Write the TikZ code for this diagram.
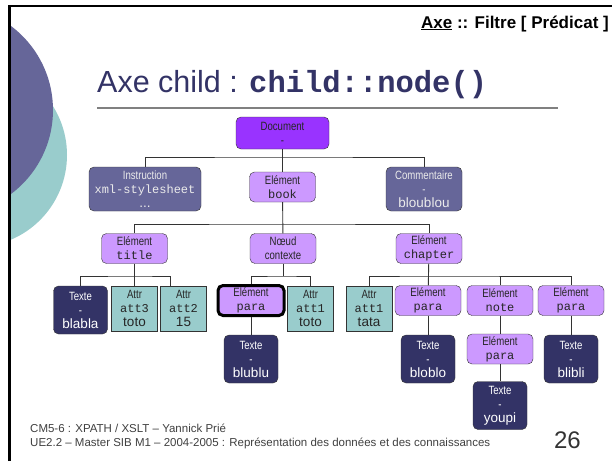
\documentclass[tikz,border=0pt]{standalone}
\usepackage{fontspec}
\setmainfont{Liberation Sans}
\setmonofont{Liberation Mono}
\newfontfamily\narrowfont[FakeStretch=0.8]{Liberation Sans}
\usetikzlibrary{positioning, calc}
\definecolor{slidenavy}{RGB}{51,51,102}
\definecolor{slideblue}{RGB}{102,102,153}
\definecolor{slideteal}{RGB}{153,204,204}
\definecolor{docviolet}{RGB}{153,51,255}
\definecolor{elemlilac}{RGB}{204,153,255}
\newcommand{\xname}[1]{{\ttfamily\fontsize{12}{14}\selectfont #1}}
\newcommand{\xval}[1]{{\normalfont\fontsize{13.5}{14}\selectfont #1}}

\begin{document}
\begin{tikzpicture}[x=1pt, y=-1pt]
    \tikzstyle{box} = [draw=black!80, rounded corners=5pt, align=center, inner sep=1pt, font=\narrowfont\fontsize{12}{14}\selectfont]
    \tikzstyle{element} = [box, fill=elemlilac, text=black!85, minimum width=66pt, minimum height=30pt]
    \tikzstyle{texte} = [box, fill=slidenavy, text=white, minimum width=54pt, minimum height=48pt]
    \tikzstyle{attr} = [box, rounded corners=0pt, fill=slideteal, text=black!85, minimum width=46pt, minimum height=45pt]
    \tikzstyle{misc} = [box, fill=slideblue, text=white!92!black, minimum height=44pt]
    \tikzstyle{edge} = [draw, black!80, line width=0.9pt]

    % slide background
    \fill[white] (0,0) rectangle (612,461);
    \useasboundingbox (0,0) rectangle (612,461);
    \begin{scope}
        \clip (10,6) rectangle (612,461);
        \fill[slideteal] (-25,155) circle (92);
        \fill[slideblue] (-52,110) circle (105);
    \end{scope}
    \draw[black, line width=3pt] (9.5,461) -- (9.5,6);
    \draw[black, line width=2pt] (8,6) -- (612,6);

    % headers and footers
    \node[anchor=base east, inner sep=0pt, font=\bfseries\fontsize{17}{19}\selectfont] (axis) at (609,28) {\underline{Axe} :: Filtre [ Prédicat ]};
    \node[anchor=base west, inner sep=0pt, text=slidenavy, font=\fontsize{30.5}{34}\selectfont] (heading) at (97,92) {Axe child : {\ttfamily\bfseries child::node()}};
    \draw[black!50, line width=1.5pt] (97,108) -- (558,108);
    \node[anchor=base west, inner sep=0pt, text=black!75, font=\fontsize{11.5}{13}\selectfont] (foot1) at (30,432) {CM5-6 : XPATH / XSLT – Yannick Prié};
    \node[anchor=base west, inner sep=0pt, text=black!75, font=\fontsize{11.5}{13}\selectfont] (foot2) at (30,446) {UE2.2 – Master SIB M1 – 2004-2005 : Représentation des données et des connaissances};
    \node[anchor=base east, inner sep=0pt, text=black!80, font=\fontsize{24}{26}\selectfont] (page) at (581,448) {26};

    % tree
    \node[box, fill=docviolet, text=black!85, minimum width=93pt, minimum height=32pt] (doc) at (282.5,133) {Document\\-};
    \node[misc, minimum width=112pt] (instr) at (145,189) {Instruction\\\xname{xml-stylesheet}\\\xval{...}};
    \node[element] (book) at (282.5,187) {Elément\\\xname{book}};
    \node[misc, minimum width=76pt] (comment) at (424,189) {Commentaire\\-\\\xval{bloublou}};

    \node[element] (title) at (134.5,248.5) {Elément\\\xname{title}};
    \node[element] (ctx) at (283,248.5) {Nœud\\contexte};
    \node[element] (chapter) at (429,248.5) {Elément\\\xname{chapter}};

    \node[texte] (blabla) at (80.5,310) {Texte\\-\\\xval{blabla}};
    \node[attr] (att3) at (134.5,308.5) {Attr\\\xname{att3}\\\xval{toto}};
    \node[attr] (att2) at (183.5,308.5) {Attr\\\xname{att2}\\\xval{15}};
    \node[element, draw=black, line width=3pt, minimum width=66pt, minimum height=30pt] (para1) at (251,300.5) {Elément\\\xname{para}};
    \node[attr] (att1a) at (310.5,308.5) {Attr\\\xname{att1}\\\xval{toto}};
    \node[attr] (att1b) at (369,308.5) {Attr\\\xname{att1}\\\xval{tata}};
    \node[element] (para2) at (428,300.5) {Elément\\\xname{para}};
    \node[element] (note) at (500,300.5) {Elément\\\xname{note}};
    \node[element] (para3) at (571,300.5) {Elément\\\xname{para}};

    \node[texte] (blublu) at (251,359) {Texte\\-\\\xval{blublu}};
    \node[texte] (bloblo) at (428,359) {Texte\\-\\\xval{bloblo}};
    \node[element] (para4) at (500,349) {Elément\\\xname{para}};
    \node[texte] (blibli) at (571,359) {Texte\\-\\\xval{blibli}};
    \node[texte] (youpi) at (500,405.5) {Texte\\-\\\xval{youpi}};

    \coordinate (bus0) at (282.5,157);
    \coordinate (bus1) at (282.5,224);
    \coordinate (bus2) at (134.5,276);
    \coordinate (bus3) at (283,276);
    \coordinate (bus4) at (429,276);

    \draw[edge] (doc) -- (book);
    \draw[edge] (instr.north) |- (bus0) -| (comment.north);
    \draw[edge] (book) -- (ctx);
    \draw[edge] (title.north) |- (bus1) -| (chapter.north);
    \draw[edge] (title) -- (att3);
    \draw[edge] (blabla.north) |- (bus2) -| ([xshift=-13pt]att2.north);
    \draw[edge] (ctx.south) -- (bus3);
    \draw[edge] (para1.north) |- (bus3) -| (att1a.north);
    \draw[edge] (chapter) -- (para2);
    \draw[edge] (att1b.north) |- (bus4) -| (para3.north);
    \draw[edge] (note.north) -- (note.north |- bus4);
    \draw[edge] (para1) -- (blublu);
    \draw[edge] (para2) -- (bloblo);
    \draw[edge] (note) -- (para4);
    \draw[edge] (para3) -- (blibli);
    \draw[edge] (para4) -- (youpi);
\end{tikzpicture}
\end{document}
